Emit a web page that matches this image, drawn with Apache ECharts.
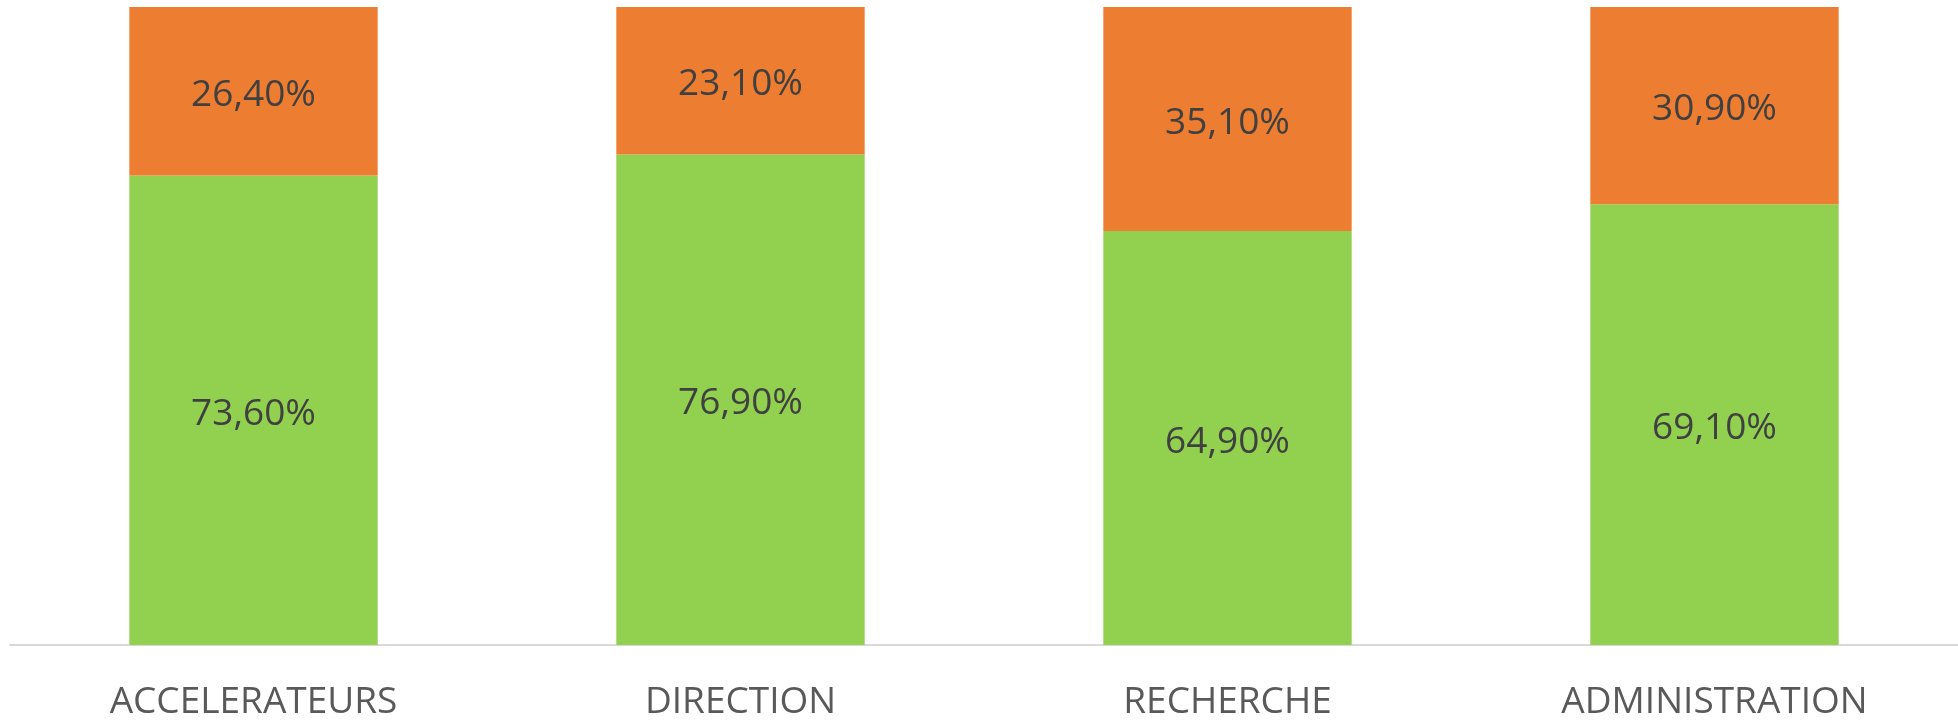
<!DOCTYPE html>
<html>
<head>
<meta charset="utf-8">
<script src="https://cdn.jsdelivr.net/npm/echarts@6/dist/echarts.min.js"></script>
<style>
  html, body { margin: 0; padding: 0; background: #fff; }
  #chart { width: 1958px; height: 721px; }
</style>
</head>
<body>
<div id="chart"></div>
<script>
const categories = ['ACCELERATEURS', 'DIRECTION', 'RECHERCHE', 'ADMINISTRATION'];
const greenValues = [73.6, 76.9, 64.9, 69.1];
const orangeValues = [26.4, 23.1, 35.1, 30.9];

// format like "73,60%"
function pct(p) {
    return p.value.toFixed(2).replace('.', ',') + '%';
}

const labelStyle = {
    show: true,
    position: 'inside',
    offset: [0, 4],
    formatter: pct,
    color: '#404040',
    fontFamily: 'Open Sans',
    fontSize: 37
};

const myChart = echarts.init(document.getElementById('chart'));

myChart.setOption({
    animation: false,
    grid: { left: 10, right: 0, top: 7, bottom: 75 },
    xAxis: {
        type: 'category',
        data: categories,
        axisLine: { lineStyle: { color: '#d9d9d9', width: 2 } },
        axisTick: { show: false },
        axisLabel: {
            color: '#595959',
            fontFamily: 'Open Sans',
            fontSize: 37,
            margin: 39
        }
    },
    yAxis: {
        type: 'value',
        min: 0,
        max: 100,
        show: false
    },
    series: [
        {
            type: 'bar',
            stack: 'total',
            data: greenValues,
            barWidth: '51%',
            itemStyle: { color: '#92D050' },
            label: labelStyle
        },
        {
            type: 'bar',
            stack: 'total',
            data: orangeValues,
            barWidth: '51%',
            itemStyle: { color: '#ED7D31' },
            label: labelStyle
        }
    ]
});
</script>
</body>
</html>
